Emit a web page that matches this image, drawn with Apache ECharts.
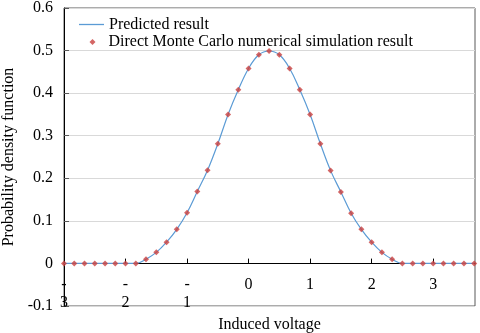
<!DOCTYPE html>
<html>
<head>
<meta charset="utf-8">
<script src="https://cdn.jsdelivr.net/npm/echarts@6/dist/echarts.min.js"></script>
<style>
  html, body { margin: 0; padding: 0; background: #fff; }
  #chart { width: 480px; height: 333px; }
</style>
</head>
<body>
<div id="chart"></div>
<script>
// induced voltage (x)
var voltage = [
  -3.000, -2.833, -2.667, -2.500, -2.333, -2.167, -2.000, -1.833, -1.667, -1.500,
  -1.333, -1.167, -1.000, -0.833, -0.667, -0.500, -0.333, -0.167, 0.000, 0.167,
  0.333, 0.500, 0.667, 0.833, 1.000, 1.167, 1.333, 1.500, 1.667, 1.833,
  2.000, 2.167, 2.333, 2.500, 2.667, 2.833, 3.000, 3.167, 3.333, 3.500, 3.667
]
// predicted pdf
var predicted = [
  0, 0, 0, 0, 0, 0, 0, 0, 0.010, 0.026,
  0.050, 0.080, 0.119, 0.169, 0.219, 0.281, 0.350, 0.408, 0.458, 0.490,
  0.499, 0.490, 0.458, 0.408, 0.350, 0.281, 0.218, 0.168, 0.118, 0.080,
  0.050, 0.026, 0.010, 0, 0, 0, 0, 0, 0, 0, 0
]
// monte carlo simulation pdf
var simulated = [
  0, 0, 0, 0, 0, 0, 0, 0, 0.010, 0.026,
  0.050, 0.080, 0.119, 0.169, 0.219, 0.281, 0.350, 0.408, 0.458, 0.490,
  0.499, 0.490, 0.458, 0.408, 0.350, 0.281, 0.218, 0.168, 0.118, 0.080,
  0.050, 0.026, 0.010, 0, 0, 0, 0, 0, 0, 0, 0
]
var seriesNames = ['Predicted result', 'Direct Monte Carlo numerical simulation result']

var font = '"Times New Roman", "Liberation Serif", serif'
var lineColor = '#5b9bd5'
var dotColor = '#c9403e'
var chart = echarts.init(document.getElementById('chart'))

var option = {
  animation: false,
  textStyle: { fontFamily: font },
  grid: {
    left: 64, right: 5, top: 8, bottom: 27,
    containLabel: false,
    outerBoundsMode: 'none',
    show: true,
    borderColor: '#595959',
    borderWidth: 1
  },
  // two legends so each entry gets its own icon size
  legend: [
    {
      orient: 'vertical',
      left: 74, top: 11.5,
      itemWidth: 25, itemHeight: 1.3,
      icon: 'rect',
      textStyle: { fontFamily: font, fontSize: 16, color: '#000' },
      itemStyle: { color: lineColor },
      data: [seriesNames[0]]
    },
    {
      orient: 'vertical',
      left: 84.5, top: 29,
      itemWidth: 6, itemHeight: 6,
      icon: 'diamond',
      textStyle: { fontFamily: font, fontSize: 16, color: '#000', padding: [0, 0, 0, 8] },
      data: [seriesNames[1]]
    }
  ],
  xAxis: {
    type: 'value',
    min: -3, max: 3.68, interval: 1,
    position: 'bottom',
    // lift the axis from the -0.1 edge up to y = 0
    offset: -42.4,
    name: 'Induced voltage',
    nameLocation: 'middle',
    nameGap: 52.5,
    nameTextStyle: { fontFamily: font, fontSize: 16, color: '#000' },
    axisLine: { onZero: false, lineStyle: { color: '#000', width: 1 } },
    axisTick: { inside: true, length: 5, lineStyle: { color: '#000' } },
    splitLine: { show: false },
    axisLabel: {
      fontFamily: font, fontSize: 16, color: '#000',
      margin: 12, lineHeight: 18,
      showMinLabel: true, showMaxLabel: false,
      // negative labels wrap the minus sign onto its own line
      formatter: function (v) {
        return v < 0 ? '-\n' + Math.abs(v) : String(v)
      }
    }
  },
  yAxis: {
    type: 'value',
    min: -0.1, max: 0.6, interval: 0.1,
    name: 'Probability density function',
    nameLocation: 'middle',
    nameGap: 39,
    nameTextStyle: { fontFamily: font, fontSize: 16, color: '#000' },
    axisLine: { show: true, onZero: false, lineStyle: { color: '#000', width: 1 } },
    axisTick: { show: true, inside: true, length: 5, lineStyle: { color: '#595959' } },
    splitLine: { show: true, lineStyle: { color: '#d9d9d9', width: 1 } },
    axisLabel: {
      fontFamily: font, fontSize: 16, color: '#000',
      margin: 11,
      showMinLabel: true, showMaxLabel: true,
      formatter: function (v) { return String(Math.round(v * 10) / 10) }
    }
  },
  series: [
    {
      name: seriesNames[0],
      type: 'line',
      smooth: 0.4,
      symbol: 'none',
      showSymbol: false,
      color: lineColor,
      lineStyle: { color: lineColor, width: 1.2 },
      data: voltage.map((x, i) => [x, predicted[i]]),
      z: 2
    },
    {
      name: seriesNames[1],
      type: 'scatter',
      symbol: 'diamond',
      symbolSize: 6,
      itemStyle: { color: dotColor },
      data: voltage.map((x, i) => [x, simulated[i]]),
      z: 3
    }
  ]
}
chart.setOption(option)
</script>
</body>
</html>
